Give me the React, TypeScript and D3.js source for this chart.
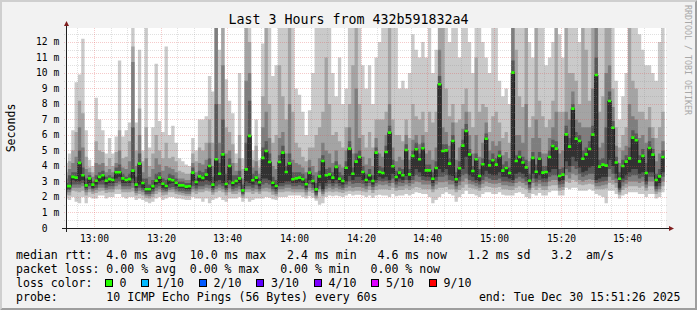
import React, { useEffect } from "react";
import * as d3 from "d3";

const W = 697;
const H = 310;
const PLOT_LEFT = 66;
const PLOT_RIGHT = 666;
const PLOT_TOP = 28;
const PLOT_BOTTOM = 228;
const Y_MAX = 12.9;

const TITLE = "Last 3 Hours from 432b591832a4";
const Y_LABEL = "Seconds";
const WATERMARK = "RRDTOOL / TOBI OETIKER";
const START = Date.UTC(2025, 11, 30, 12, 51, 26);
const END = Date.UTC(2025, 11, 30, 15, 51, 26);
const FIRST_SAMPLE_END = Date.UTC(2025, 11, 30, 12, 52, 0);
const STEP = 60000;

const yTickValues = [0, 1, 2, 3, 4, 5, 6, 7, 8, 9, 10, 11, 12];
const yMinorValues = [0.5, 1.5, 2.5, 3.5, 4.5, 5.5, 6.5, 7.5, 8.5, 9.5, 10.5, 11.5, 12.5];

// median rtt (ms) per 1-minute sample = 6th of 10 sorted pings
const median = [
  2.7, 2.7, 3.3, 3.25, 4.2, 3.4, 2.75, 3.2, 2.8, 3.05, 3.3, 3.4, 3.05, 3.15, 3.1, 3.6, 3.6, 3.2, 3.1, 3.15, 3.7, 2.8, 4.15, 2.9, 2.5, 2.5, 2.7, 3.05, 3.25, 2.85,
  2.71, 3.14, 3.08, 2.92, 2.75, 2.75, 2.67, 2.69, 3.57, 2.97, 3.33, 3.23, 3.44, 4.0, 2.8, 4.43, 3.5, 4.75, 2.84, 4.0, 2.92, 3.03, 3.2, 2.43, 3.78, 5.94, 3.08, 3.25, 2.95, 4.52,
  4.97, 4.26, 2.92, 2.71, 4.26, 4.86, 3.61, 4.17, 3.14, 3.2, 3.25, 3.14, 2.82, 3.57, 3.03, 2.49, 3.33, 4.32, 3.4, 3.46, 3.25, 3.94, 3.18, 3.03, 3.89, 5.12, 3.5, 4.28, 4.58, 3.61,
  3.1, 3.4, 3.03, 4.86, 3.61, 3.55, 4.9, 6.15, 3.98, 3.29, 3.57, 3.4, 5.03, 3.46, 4.65, 5.08, 4.43, 5.14, 3.72, 3.72, 3.18, 3.87, 9.27, 4.97, 5.01, 4.15, 5.61, 3.14, 3.85, 5.31,
  6.26, 4.75, 3.68, 4.43, 3.35, 4.11, 5.76, 4.04, 4.37, 4.09, 4.65, 3.7, 3.87, 3.55, 10.02, 4.32, 4.58, 4.22, 3.91, 3.05, 4.52, 3.63, 4.47, 3.57, 3.61, 4.58, 5.29, 5.12, 3.35, 3.44,
  6.04, 5.25, 7.7, 5.76, 5.61, 4.47, 4.75, 5.1, 6.02, 9.87, 3.96, 4.09, 4.02, 8.19, 6.47, 4.22, 3.18, 4.0, 4.28, 4.49, 5.83, 5.66, 4.3, 4.65, 3.55, 5.16, 4.73, 3.1, 3.33, 4.58,
];

const ping10 = [
  4.2, 4.8, 6.3, 9.4, 9.9, 12.2, 6.3, 4.4, 4.0, 8.4, 7.0, 6.3, 4.8, 5.8, 4.8, 5.9, 10.8, 5.9, 6.3, 6.8, 12.9, 6.8, 11.5, 5.0, 12.9, 5.2, 6.5, 10.6, 6.9, 6.2,
  11.7, 6.0, 6.6, 5.5, 4.5, 4.3, 4.1, 4.0, 5.8, 5.0, 7.0, 7.0, 7.2, 9.8, 8.8, 12.9, 11.5, 12.9, 9.6, 8.2, 7.4, 4.8, 10.0, 4.5, 12.9, 12.9, 5.0, 7.0, 4.4, 11.9,
  12.9, 12.9, 9.8, 10.5, 12.9, 12.9, 12.9, 12.9, 12.9, 9.0, 8.6, 7.5, 6.0, 7.6, 10.0, 12.9, 12.9, 12.9, 12.9, 12.9, 10.0, 8.5, 11.0, 8.0, 9.0, 12.9, 12.9, 12.9, 12.9, 10.5,
  9.0, 10.5, 8.0, 11.0, 12.0, 12.9, 12.9, 12.9, 12.9, 12.9, 9.0, 9.5, 9.0, 10.0, 12.5, 11.5, 11.0, 12.0, 11.0, 12.9, 10.0, 11.5, 12.9, 12.9, 12.9, 12.0, 12.9, 12.9, 11.0, 12.9,
  12.9, 12.0, 10.0, 12.9, 12.9, 12.0, 11.0, 10.0, 12.9, 12.9, 9.5, 8.5, 9.0, 8.0, 12.9, 12.9, 12.9, 12.9, 12.9, 12.0, 11.0, 12.9, 12.9, 12.9, 10.5, 11.0, 12.0, 12.9, 12.5, 11.0,
  12.9, 12.9, 12.9, 12.9, 12.0, 12.9, 12.9, 12.9, 12.9, 12.9, 12.9, 12.9, 12.9, 12.9, 12.9, 9.5, 7.0, 8.5, 10.0, 12.9, 12.9, 12.9, 12.5, 11.5, 10.5, 10.5, 10.0, 9.5, 12.0, 12.9,
];

const ping9 = [
  3.6, 4.3, 5.0, 6.2, 8.2, 7.4, 4.6, 3.9, 3.6, 5.6, 5.0, 4.9, 4.0, 4.5, 4.0, 4.9, 6.3, 4.5, 4.6, 5.6, 11.7, 5.0, 7.7, 4.3, 6.5, 4.0, 4.8, 6.0, 5.0, 4.5,
  5.5, 4.5, 4.6, 4.3, 3.7, 3.6, 3.5, 3.5, 4.8, 4.3, 5.2, 5.0, 5.5, 7.0, 5.5, 12.9, 8.0, 12.9, 6.5, 6.2, 5.4, 4.2, 6.0, 3.8, 12.9, 12.0, 4.4, 5.3, 3.9, 8.5,
  12.9, 8.0, 5.5, 6.0, 10.5, 8.5, 7.0, 12.9, 7.5, 5.5, 5.2, 4.6, 4.3, 5.2, 5.2, 6.0, 6.5, 7.5, 11.0, 8.0, 6.0, 6.2, 5.6, 5.2, 6.5, 8.0, 10.5, 12.9, 8.0, 6.0,
  5.2, 6.2, 5.2, 7.0, 7.0, 7.0, 7.5, 12.9, 7.0, 6.0, 6.0, 5.6, 7.0, 5.8, 8.0, 7.2, 7.0, 7.5, 6.2, 7.5, 6.8, 7.5, 12.9, 12.9, 9.0, 7.2, 8.0, 6.8, 7.0, 8.0,
  9.0, 7.5, 6.5, 11.0, 7.5, 8.0, 7.8, 6.2, 7.2, 7.5, 6.8, 5.8, 6.2, 5.5, 12.9, 11.5, 8.5, 7.8, 12.9, 6.5, 7.2, 12.9, 8.2, 7.2, 6.5, 7.0, 8.2, 12.9, 7.5, 7.5,
  12.9, 10.0, 10.0, 9.5, 8.0, 12.9, 11.5, 8.2, 12.9, 12.9, 7.5, 8.5, 12.9, 12.9, 9.0, 6.5, 5.2, 6.0, 6.5, 12.9, 9.5, 9.0, 7.5, 7.5, 7.0, 7.8, 6.5, 5.8, 6.5, 7.5,
];

const ping8 = [
  3.2, 3.8, 4.2, 4.6, 6.5, 5.2, 3.8, 3.6, 3.3, 4.2, 4.1, 4.2, 3.6, 3.8, 3.6, 4.2, 5.0, 3.9, 3.8, 4.3, 10.7, 4.0, 6.0, 3.6, 4.5, 3.3, 3.8, 4.5, 4.1, 3.7,
  4.0, 3.9, 3.8, 3.6, 3.2, 3.2, 3.1, 3.1, 4.2, 3.6, 4.2, 4.1, 4.4, 5.5, 4.0, 12.9, 5.5, 10.5, 4.8, 5.0, 4.2, 3.7, 4.5, 3.2, 9.5, 10.0, 3.9, 4.3, 3.5, 6.5,
  7.5, 5.8, 4.0, 3.8, 5.8, 6.2, 4.8, 8.0, 4.4, 4.2, 4.1, 3.9, 3.6, 4.4, 4.0, 3.6, 4.5, 5.5, 5.0, 4.8, 4.2, 5.0, 4.1, 3.9, 5.0, 6.5, 4.8, 9.0, 5.8, 4.6,
  4.1, 4.5, 4.0, 5.8, 4.8, 4.6, 6.0, 8.0, 5.2, 4.3, 4.6, 4.4, 6.0, 4.4, 5.7, 6.0, 5.4, 6.0, 4.8, 5.0, 4.4, 5.2, 11.5, 6.5, 6.2, 5.3, 6.8, 4.4, 5.2, 6.4,
  7.5, 6.0, 4.8, 6.0, 4.6, 5.5, 6.8, 5.0, 5.6, 5.3, 5.6, 4.7, 4.9, 4.5, 12.9, 6.0, 6.0, 5.5, 8.0, 4.3, 5.8, 7.0, 5.8, 4.8, 4.8, 5.8, 6.5, 7.5, 4.8, 5.0,
  7.5, 7.0, 8.8, 7.0, 6.8, 6.5, 6.5, 6.5, 9.0, 12.9, 5.2, 5.5, 10.0, 10.5, 7.8, 5.3, 4.2, 5.0, 5.3, 8.0, 7.2, 7.0, 5.8, 6.0, 5.5, 6.5, 5.8, 4.3, 4.8, 5.6,
];

const ping7 = [
  2.9, 3.4, 3.6, 3.6, 5.0, 3.9, 3.2, 3.4, 3.0, 3.4, 3.6, 3.7, 3.3, 3.4, 3.3, 3.9, 4.1, 3.5, 3.3, 3.5, 6.5, 3.3, 4.8, 3.2, 3.2, 2.8, 3.1, 3.5, 3.6, 3.2,
  3.1, 3.5, 3.4, 3.2, 3.0, 3.0, 2.9, 2.9, 3.9, 3.2, 3.7, 3.6, 3.8, 4.5, 3.3, 8.0, 4.2, 7.0, 3.5, 4.5, 3.4, 3.4, 3.7, 2.8, 5.5, 8.2, 3.5, 3.7, 3.2, 5.2,
  5.6, 4.8, 3.3, 3.1, 4.7, 5.3, 4.0, 4.8, 3.6, 3.6, 3.6, 3.5, 3.2, 3.9, 3.4, 2.9, 3.7, 4.7, 3.8, 3.9, 3.6, 4.3, 3.6, 3.4, 4.3, 5.6, 3.9, 4.8, 5.0, 4.0,
  3.5, 3.8, 3.4, 5.2, 4.0, 3.9, 5.3, 6.6, 4.4, 3.7, 3.9, 3.8, 5.4, 3.8, 5.0, 5.5, 4.8, 5.5, 4.1, 4.1, 3.6, 4.3, 9.8, 5.4, 5.4, 4.5, 6.0, 3.6, 4.3, 5.7,
  6.7, 5.1, 4.0, 4.8, 3.8, 4.5, 6.1, 4.4, 4.8, 4.5, 5.0, 4.1, 4.3, 3.9, 10.8, 4.7, 5.0, 4.6, 4.4, 3.5, 4.9, 4.1, 4.9, 4.0, 4.0, 5.0, 5.7, 5.6, 3.8, 3.9,
  6.6, 5.8, 8.0, 6.2, 6.0, 5.0, 5.2, 5.6, 6.6, 11.0, 4.4, 4.5, 6.5, 8.8, 6.9, 4.6, 3.6, 4.4, 4.7, 5.2, 6.3, 6.1, 4.7, 5.1, 4.2, 5.6, 5.1, 3.5, 3.8, 5.0,
];

const ping5 = [
  2.55, 2.55, 3.1, 3.0, 3.0, 3.1, 2.6, 2.9, 2.6, 2.8, 3.0, 3.1, 2.8, 2.9, 2.9, 3.2, 3.3, 2.9, 2.9, 2.9, 3.2, 2.6, 2.8, 2.6, 2.35, 2.35, 2.5, 2.8, 2.9, 2.6,
  2.55, 2.85, 2.9, 2.7, 2.6, 2.6, 2.5, 2.5, 3.0, 2.75, 3.0, 3.0, 3.1, 3.0, 2.6, 3.0, 3.1, 2.9, 2.6, 3.1, 2.7, 2.8, 2.9, 2.3, 3.0, 2.9, 2.8, 3.0, 2.7, 3.2,
  3.2, 3.1, 2.7, 2.5, 2.9, 2.9, 3.0, 3.0, 2.9, 2.9, 2.95, 2.9, 2.6, 3.1, 2.8, 2.3, 2.9, 2.5, 2.9, 3.1, 2.9, 3.1, 2.9, 2.8, 3.0, 3.35, 3.1, 3.3, 3.3, 3.1,
  2.9, 3.1, 2.8, 3.1, 3.3, 3.2, 3.3, 3.1, 3.5, 3.0, 3.2, 3.1, 3.35, 3.1, 3.35, 3.8, 3.6, 3.35, 3.3, 3.3, 2.9, 3.3, 3.8, 3.6, 3.8, 3.4, 3.35, 2.9, 3.3, 3.8,
  4.6, 3.4, 3.3, 3.1, 3.0, 3.4, 3.7, 3.5, 3.4, 3.4, 3.6, 3.3, 3.3, 3.2, 3.1, 3.5, 3.6, 3.5, 3.3, 2.8, 3.5, 3.2, 3.4, 3.2, 3.2, 3.6, 3.8, 3.8, 3.0, 3.1,
  4.3, 4.0, 4.6, 4.3, 3.9, 3.6, 3.7, 3.9, 4.0, 3.1, 3.2, 3.3, 3.3, 4.4, 4.0, 3.5, 2.6, 3.2, 3.4, 3.6, 3.8, 3.8, 3.5, 3.6, 3.0, 3.6, 3.6, 2.7, 2.9, 3.6,
];

const ping4 = [
  2.45, 2.45, 2.8, 2.8, 2.8, 2.9, 2.45, 2.7, 2.5, 2.6, 2.8, 2.8, 2.6, 2.7, 2.7, 2.9, 3.0, 2.7, 2.7, 2.7, 2.9, 2.4, 2.6, 2.45, 2.2, 2.2, 2.35, 2.6, 2.7, 2.45,
  2.4, 2.6, 2.65, 2.5, 2.4, 2.4, 2.35, 2.35, 2.7, 2.55, 2.7, 2.7, 2.8, 2.75, 2.45, 2.7, 2.8, 2.7, 2.45, 2.8, 2.5, 2.6, 2.7, 2.2, 2.7, 2.7, 2.6, 2.75, 2.5, 2.8,
  2.9, 2.8, 2.5, 2.35, 2.7, 2.7, 2.8, 2.8, 2.7, 2.7, 2.75, 2.7, 2.45, 2.85, 2.6, 2.15, 2.7, 2.35, 2.7, 2.85, 2.7, 2.85, 2.7, 2.6, 2.8, 3.0, 2.85, 2.9, 2.9, 2.85,
  2.7, 2.9, 2.65, 2.9, 3.05, 3.0, 3.05, 2.9, 3.2, 2.8, 2.95, 2.9, 3.1, 2.9, 3.1, 3.4, 3.3, 3.1, 3.05, 3.05, 2.7, 3.05, 3.3, 3.3, 3.4, 3.1, 3.05, 2.7, 3.0, 3.4,
  3.5, 3.1, 3.0, 2.9, 2.8, 3.1, 3.3, 3.2, 3.1, 3.1, 3.2, 3.0, 3.0, 2.95, 2.9, 3.2, 3.3, 3.2, 3.0, 2.6, 3.2, 2.95, 3.1, 2.95, 2.95, 3.3, 3.4, 3.4, 2.8, 2.85,
  3.8, 3.6, 4.0, 3.8, 3.5, 3.3, 3.4, 3.5, 3.5, 2.9, 2.95, 3.0, 3.05, 3.8, 3.5, 3.2, 2.45, 2.95, 3.1, 3.3, 3.4, 3.4, 3.2, 3.3, 2.8, 3.3, 3.3, 2.5, 2.7, 3.3,
];

const ping3 = [
  2.3, 2.3, 2.6, 2.6, 2.6, 2.7, 2.3, 2.5, 2.35, 2.45, 2.6, 2.6, 2.45, 2.5, 2.5, 2.7, 2.8, 2.5, 2.5, 2.5, 2.6, 2.25, 2.4, 2.3, 2.1, 2.05, 2.2, 2.4, 2.5, 2.3,
  2.3, 2.45, 2.5, 2.35, 2.3, 2.25, 2.2, 2.2, 2.5, 2.4, 2.5, 2.5, 2.6, 2.55, 2.3, 2.5, 2.6, 2.5, 2.3, 2.55, 2.35, 2.4, 2.5, 2.1, 2.5, 2.5, 2.4, 2.5, 2.35, 2.55,
  2.6, 2.55, 2.35, 2.2, 2.5, 2.5, 2.6, 2.6, 2.5, 2.5, 2.5, 2.5, 2.3, 2.6, 2.45, 2.05, 2.5, 2.2, 2.5, 2.6, 2.5, 2.6, 2.5, 2.45, 2.6, 2.7, 2.6, 2.65, 2.65, 2.6,
  2.5, 2.7, 2.45, 2.7, 2.8, 2.75, 2.8, 2.7, 2.9, 2.6, 2.7, 2.7, 2.8, 2.7, 2.85, 3.0, 2.95, 2.8, 2.8, 2.8, 2.5, 2.8, 2.95, 2.95, 3.0, 2.8, 2.8, 2.5, 2.75, 3.0,
  3.2, 2.85, 2.8, 2.7, 2.6, 2.85, 3.0, 2.9, 2.85, 2.85, 2.9, 2.75, 2.75, 2.7, 2.7, 2.9, 3.0, 2.9, 2.75, 2.45, 2.9, 2.7, 2.85, 2.7, 2.7, 3.0, 3.1, 3.1, 2.6, 2.65,
  3.4, 3.2, 3.5, 3.4, 3.1, 3.0, 3.1, 3.15, 3.1, 2.7, 2.7, 2.75, 2.8, 3.3, 3.1, 2.9, 2.3, 2.7, 2.85, 3.0, 3.0, 3.0, 2.9, 3.0, 2.6, 3.0, 3.0, 2.35, 2.5, 3.0,
];

const ping2 = [
  2.15, 2.1, 2.4, 2.35, 2.3, 2.4, 2.1, 2.3, 2.2, 2.25, 2.35, 2.4, 2.25, 2.3, 2.3, 2.5, 2.5, 2.3, 2.3, 2.3, 2.35, 2.1, 2.2, 2.1, 1.95, 1.9, 2.0, 2.2, 2.3, 2.1,
  2.15, 2.3, 2.3, 2.2, 2.15, 2.1, 2.05, 2.05, 2.3, 2.2, 2.3, 2.3, 2.4, 2.35, 2.15, 2.3, 2.4, 2.3, 2.1, 2.3, 2.2, 2.2, 2.3, 1.95, 2.3, 2.3, 2.2, 2.3, 2.2, 2.35,
  2.35, 2.3, 2.15, 2.05, 2.3, 2.3, 2.35, 2.35, 2.3, 2.3, 2.3, 2.3, 2.1, 2.35, 2.25, 1.9, 2.3, 2.05, 2.3, 2.35, 2.3, 2.35, 2.3, 2.25, 2.35, 2.4, 2.35, 2.4, 2.4, 2.35,
  2.3, 2.45, 2.25, 2.45, 2.5, 2.5, 2.5, 2.45, 2.6, 2.4, 2.45, 2.45, 2.55, 2.45, 2.55, 2.65, 2.6, 2.5, 2.5, 2.5, 2.3, 2.5, 2.6, 2.6, 2.65, 2.5, 2.5, 2.3, 2.45, 2.6,
  2.8, 2.6, 2.55, 2.5, 2.4, 2.6, 2.7, 2.65, 2.6, 2.6, 2.65, 2.5, 2.5, 2.45, 2.45, 2.6, 2.7, 2.6, 2.5, 2.25, 2.6, 2.45, 2.6, 2.45, 2.45, 2.7, 2.75, 2.75, 2.4, 2.45,
  3.0, 2.9, 3.1, 3.0, 2.8, 2.75, 2.8, 2.85, 2.8, 2.5, 2.5, 2.5, 2.55, 2.9, 2.8, 2.6, 2.15, 2.45, 2.6, 2.7, 2.7, 2.7, 2.6, 2.7, 2.4, 2.7, 2.7, 2.2, 2.3, 2.7,
];

const ping1 = [
  1.9, 1.8, 2.0, 1.7, 1.6, 2.0, 1.6, 2.0, 1.9, 1.9, 2.1, 2.1, 1.9, 2.0, 2.0, 2.2, 2.2, 2.0, 1.9, 2.0, 2.0, 1.8, 1.9, 1.8, 1.7, 1.6, 1.7, 1.9, 2.0, 1.8,
  1.9, 2.0, 2.0, 1.9, 1.9, 1.85, 1.8, 1.8, 2.0, 1.9, 1.9, 1.7, 1.9, 1.6, 1.8, 1.9, 2.0, 1.8, 1.7, 1.9, 1.9, 1.9, 2.0, 1.7, 1.9, 1.7, 1.8, 1.9, 1.9, 1.9,
  2.0, 1.95, 1.85, 1.8, 2.0, 2.0, 2.0, 2.1, 2.1, 2.1, 2.1, 2.0, 1.9, 2.05, 1.95, 1.75, 1.5, 1.6, 2.0, 2.1, 2.05, 2.1, 2.05, 2.0, 2.1, 2.2, 2.1, 2.15, 2.15, 2.1,
  2.0, 2.1, 1.95, 2.1, 2.15, 2.1, 2.1, 2.0, 2.2, 2.05, 2.1, 2.1, 2.2, 2.1, 2.2, 2.3, 2.25, 2.2, 2.2, 2.0, 1.6, 1.8, 2.0, 2.2, 2.3, 2.2, 2.1, 1.7, 2.0, 2.2,
  2.4, 2.2, 2.2, 2.1, 2.0, 2.2, 2.3, 2.3, 2.2, 2.2, 2.3, 2.15, 2.1, 2.1, 2.1, 2.25, 2.3, 2.2, 2.0, 1.9, 2.2, 2.1, 2.25, 2.1, 2.1, 2.3, 2.4, 2.4, 2.1, 2.1,
  2.6, 2.5, 2.6, 2.6, 2.4, 2.4, 2.4, 2.5, 2.4, 2.2, 2.1, 2.0, 1.6, 2.4, 2.4, 2.2, 1.9, 2.1, 2.2, 2.3, 2.3, 2.3, 2.2, 2.2, 2.0, 2.2, 2.2, 1.9, 2.0, 2.3,
];

const smokeColors = ["#cacaca", "#a4a4a4", "#7e7e7e", "#585858", "#323232"];

const legendRtt = "median rtt:  4.0 ms avg  10.0 ms max   2.4 ms min   4.6 ms now   1.2 ms sd   3.2  am/s";
const legendLoss = "packet loss: 0.00 % avg  0.00 % max   0.00 % min   0.00 % now";
const legendLossColor = "loss color:";
const lossLabels = ["0", "1/10", "2/10", "3/10", "4/10", "5/10", "9/10"];
const lossColors = ["#26ff00", "#00b8ff", "#0059ff", "#5e00ff", "#7e00ff", "#dd00ff", "#ff0000"];
const legendProbe = "probe:       10 ICMP Echo Pings (56 Bytes) every 60s";
const legendEnd = "end: Tue Dec 30 15:51:26 2025";

const MONO = "'DejaVu Sans Mono', monospace";
const LEGEND_FS = 11.55;
const AXIS_FS = 9.65;
const TITLE_FS = 13.3;
const CHAR_W = 6.95;

const keepSpaces = (s: string) => s.replace(/ /g, "\u00a0");

export default function App() {
  useEffect(() => {
    document.body.style.margin = "0";
  }, []);

  const x = d3.scaleUtc().domain([new Date(START), new Date(END)]).range([PLOT_LEFT, PLOT_RIGHT]);
  const y = d3.scaleLinear().domain([0, Y_MAX]).range([PLOT_BOTTOM, PLOT_TOP]);

  const n = median.length;
  const idx = d3.range(n + 1);
  const xAt = (i: number) => x(new Date(FIRST_SAMPLE_END + (i - 1) * STEP));
  const val = (arr: number[], i: number) => arr[Math.min(i, n - 1)];

  const pairs: [number[], number[]][] = [
    [ping1, ping10],
    [ping2, ping9],
    [ping3, ping8],
    [ping4, ping7],
    [ping5, median],
  ];
  const smokePaths = pairs.map(([lo, hi]) =>
    d3
      .area<number>()
      .x((i) => xAt(i))
      .y0((i) => y(Math.min(val(lo, i), Y_MAX)))
      .y1((i) => y(Math.min(val(hi, i), Y_MAX)))
      .curve(d3.curveStepAfter)(idx) as string
  );
  const medianLine = d3
    .line<number>()
    .x((i) => xAt(i))
    .y((i) => y(val(median, i)))
    .curve(d3.curveStepAfter)(idx) as string;
  const greenPath = d3
    .area<number>()
    .x((i) => xAt(i))
    .y0((i) => y(val(median, i)) + 1.3)
    .y1((i) => y(val(median, i)) - 1.3)
    .curve(d3.curveStepAfter)(idx) as string;

  const minorTimes = d3.utcMinute.every(5)!.range(new Date(START), new Date(END));
  const majorTimes = minorTimes.filter((d) => d.getUTCMinutes() % 20 === 0);
  const minorOnly = minorTimes.filter((d) => d.getUTCMinutes() % 20 !== 0);
  const fmt = d3.utcFormat("%H:%M");
  const px = (v: number) => Math.floor(v) + 0.5;
  const py = (v: number) => Math.round(v) + 0.5;

  const boxes: { bx: number; lx: number; label: string; color: string }[] = [];
  let cur = 16 + 13 * CHAR_W - 1.65;
  lossLabels.forEach((label, i) => {
    const bx = cur;
    const lx = bx + 14.7;
    boxes.push({ bx, lx, label, color: lossColors[i] });
    cur = lx + label.length * CHAR_W + 15;
  });

  const legendY = [259, 272.9, 286.8, 300.7];
  const minorStroke = "rgba(143,143,143,0.28)";
  const majorStroke = "rgba(222,79,79,0.3)";

  return (
    <svg
      width={W}
      height={H}
      viewBox={`0 0 ${W} ${H}`}
      style={{ position: "absolute", left: 0, top: 0, display: "block" }}
      fontFamily={MONO}
    >
      <defs>
        <clipPath id="plotClip">
          <rect x={PLOT_LEFT} y={PLOT_TOP} width={PLOT_RIGHT - PLOT_LEFT} height={PLOT_BOTTOM - PLOT_TOP} />
        </clipPath>
      </defs>
      <rect x={0} y={0} width={W} height={H} fill="#f2f2f2" />
      <polygon points={`0,0 ${W},0 ${W - 2},2 2,2 2,${H - 2} 0,${H}`} fill="#cfcfcf" />
      <polygon points={`${W},0 ${W},${H} 0,${H} 2,${H - 2} ${W - 2},${H - 2} ${W - 2},2`} fill="#9e9e9e" />
      <rect x={PLOT_LEFT} y={PLOT_TOP} width={PLOT_RIGHT - PLOT_LEFT} height={PLOT_BOTTOM - PLOT_TOP} fill="#ffffff" />

      <g clipPath="url(#plotClip)">
        {smokePaths.map((d, i) => (
          <path key={i} d={d} fill={smokeColors[i]} />
        ))}
        <path d={medianLine} fill="none" stroke="#202020" strokeWidth={1} />
        <path d={greenPath} fill={lossColors[0]} />
      </g>

      <g strokeDasharray="1,1" strokeWidth={1}>
        {yMinorValues.map((v) => (
          <line key={"hm" + v} x1={PLOT_LEFT - 2} x2={PLOT_RIGHT + 2} y1={py(y(v))} y2={py(y(v))} stroke={minorStroke} />
        ))}
        {minorOnly.map((d) => (
          <line key={"vm" + d.getTime()} x1={px(x(d))} x2={px(x(d))} y1={PLOT_TOP} y2={PLOT_BOTTOM + 2} stroke={minorStroke} />
        ))}
        {yTickValues.filter((v) => v > 0).map((v) => (
          <line key={"hM" + v} x1={PLOT_LEFT - 2} x2={PLOT_RIGHT + 2} y1={py(y(v))} y2={py(y(v))} stroke={majorStroke} />
        ))}
        {majorTimes.map((d) => (
          <line key={"vM" + d.getTime()} x1={px(x(d))} x2={px(x(d))} y1={PLOT_TOP} y2={PLOT_BOTTOM + 2} stroke={majorStroke} />
        ))}
      </g>

      <line x1={PLOT_LEFT - 4} x2={PLOT_RIGHT + 4} y1={PLOT_BOTTOM + 0.5} y2={PLOT_BOTTOM + 0.5} stroke="#1f1f1f" strokeWidth={1} />
      <line x1={PLOT_LEFT + 0.5} x2={PLOT_LEFT + 0.5} y1={PLOT_BOTTOM + 4} y2={PLOT_TOP - 4} stroke="#1f1f1f" strokeWidth={1} />
      <polygon points={`${PLOT_RIGHT + 3},${PLOT_BOTTOM - 2} ${PLOT_RIGHT + 8},${PLOT_BOTTOM + 0.5} ${PLOT_RIGHT + 3},${PLOT_BOTTOM + 3}`} fill="#801f1f" />
      <polygon points={`${PLOT_LEFT - 2},${PLOT_TOP - 2} ${PLOT_LEFT + 0.5},${PLOT_TOP - 7} ${PLOT_LEFT + 3},${PLOT_TOP - 2}`} fill="#801f1f" />

      <g fontSize={AXIS_FS} fill="#000">
        {yTickValues.map((v) => (
          <g key={"yl" + v}>
            <text x={47.5} y={y(v) + 3.5} textAnchor="end">
              {v}
            </text>
            {v > 0 && (
              <text x={53.6} y={y(v) + 3.5}>
                m
              </text>
            )}
          </g>
        ))}
        {majorTimes.map((d) => (
          <text key={"xl" + d.getTime()} x={px(x(d))} y={241.5} textAnchor="middle">
            {fmt(d)}
          </text>
        ))}
      </g>

      <text x={W / 2} y={24} textAnchor="middle" fontSize={TITLE_FS} fill="#000">
        {TITLE}
      </text>
      <text transform={`translate(15, ${(PLOT_TOP + PLOT_BOTTOM) / 2}) rotate(-90)`} textAnchor="middle" fontSize={LEGEND_FS} fill="#000">
        {Y_LABEL}
      </text>
      <text transform="translate(685, 5) rotate(90)" fontSize={8.3} fill="#a8a8a8">
        {WATERMARK}
      </text>

      <g fontSize={LEGEND_FS} fill="#000">
        <text x={16} y={legendY[0]}>{keepSpaces(legendRtt)}</text>
        <text x={16} y={legendY[1]}>{keepSpaces(legendLoss)}</text>
        <text x={16} y={legendY[2]}>{keepSpaces(legendLossColor)}</text>
        {boxes.map((b) => (
          <g key={b.label}>
            <rect x={Math.round(b.bx) + 0.5} y={279.5} width={7} height={7} fill={b.color} stroke="#000" strokeWidth={1} />
            <text x={b.lx} y={legendY[2]}>{b.label}</text>
          </g>
        ))}
        <text x={16} y={legendY[3]}>{keepSpaces(legendProbe)}</text>
        <text x={680.5} y={legendY[3]} textAnchor="end">{keepSpaces(legendEnd)}</text>
      </g>
    </svg>
  );
}
